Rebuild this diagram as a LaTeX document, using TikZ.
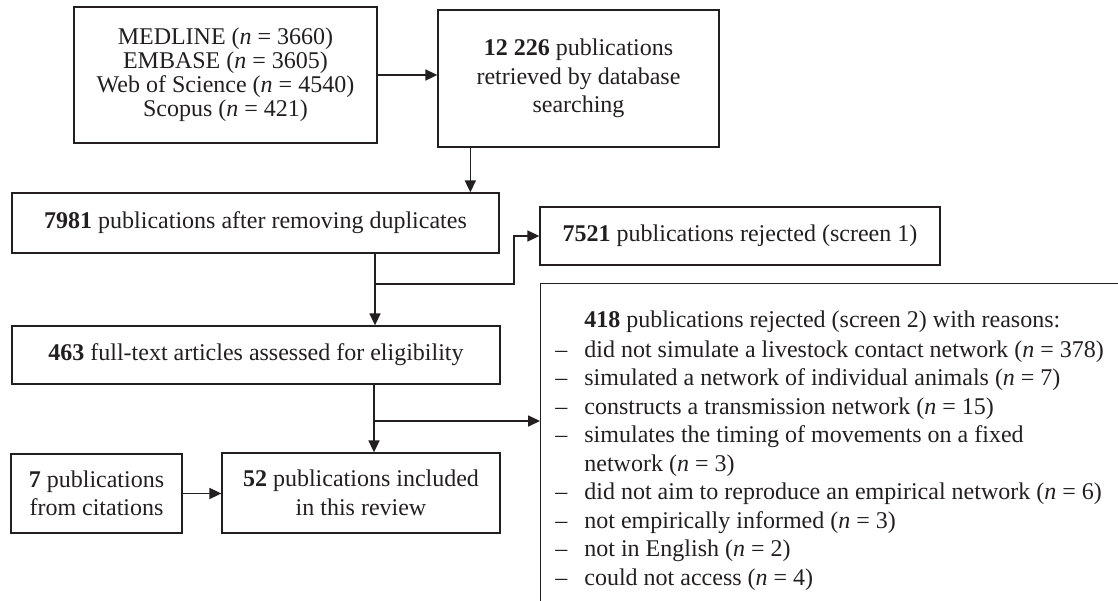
\documentclass[tikz,border=0pt]{standalone}
\usepackage{fontspec}
\setmainfont{Liberation Serif}
\usepackage{tikz}
\usetikzlibrary{arrows.meta,positioning}
\definecolor{ink}{HTML}{231F20}

\begin{document}
\begin{tikzpicture}[x=0.5pt,y=-0.5pt,color=ink,
  box/.style={draw,line width=0.65pt,rectangle,align=center,inner sep=0pt,font=\fontsize{12}{14.25}\selectfont},
  flow/.style={line width=0.85pt,-{Triangle[length=6pt,width=5.5pt]}}]
\useasboundingbox (0,0) rectangle (1118,600);
\clip (0,0) rectangle (1118,600);

\node[box,minimum width=151.5pt,minimum height=68pt,font=\fontsize{12}{12}\selectfont] (db) at (225.5,75)
  {MEDLINE (\textit{n} = 3660)\\EMBASE (\textit{n} = 3605)\\Web of Science (\textit{n} = 4540)\\Scopus (\textit{n} = 421)};
\node[box,minimum width=140.5pt,minimum height=68.5pt] (found) at (578.5,78.5)
  {\textbf{12 226} publications\\retrieved by database\\searching};
\node[box,minimum width=243.5pt,minimum height=30pt] (dedup) at (255.5,223)
  {\textbf{7981} publications after removing duplicates};
\node[box,minimum width=200pt,minimum height=29pt] (rejone) at (740,236)
  {\textbf{7521} publications rejected (screen 1)};
\node[box,minimum width=244pt,minimum height=29pt] (fulltext) at (256,355)
  {\textbf{463} full-text articles assessed for eligibility};
\node[box,minimum width=85.5pt,minimum height=39.5pt] (cited) at (96.5,493.5)
  {\textbf{7} publications\\from citations};
\node[box,minimum width=139pt,minimum height=40pt] (included) at (361,493)
  {\textbf{52} publications included\\in this review};

\node[box,anchor=north west,minimum width=350pt,minimum height=200pt] (rejtwo) at (540,283) {};
\node[anchor=north west,align=left,inner sep=0pt,font=\fontsize{12}{14.25}\selectfont] (reasons) at (584,310)
  {\textbf{418} publications rejected (screen 2) with reasons:\\[0.75pt]
   \llap{--\hspace{8.5pt}}did not simulate a livestock contact network (\textit{n} = 378)\\
   \llap{--\hspace{8.5pt}}simulated a network of individual animals (\textit{n} = 7)\\
   \llap{--\hspace{8.5pt}}constructs a transmission network (\textit{n} = 15)\\
   \llap{--\hspace{8.5pt}}simulates the timing of movements on a fixed\\
   network (\textit{n} = 3)\\
   \llap{--\hspace{8.5pt}}did not aim to reproduce an empirical network (\textit{n} = 6)\\
   \llap{--\hspace{8.5pt}}not empirically informed (\textit{n} = 3)\\
   \llap{--\hspace{8.5pt}}not in English (\textit{n} = 2)\\
   \llap{--\hspace{8.5pt}}could not access (\textit{n} = 4)};

\coordinate (split1) at (375,284);
\coordinate (bend1) at (514,284);
\coordinate (split2) at (374,421);

\draw[flow] (db.east) -- (db.east -| found.west);
\draw[flow] ([xshift=16.5pt]found.south west) -- ([xshift=16.5pt]found.south west |- dedup.north);
\draw[line width=0.85pt] (split1 |- dedup.south) -- (split1);
\draw[flow] (split1) -- (split1 |- fulltext.north);
\draw[flow] (split1) -- (bend1) |- (rejone.west);
\draw[line width=0.85pt] (split2 |- fulltext.south) -- (split2);
\draw[flow] (split2) -- (split2 |- included.north);
\draw[flow] (split2) -- (split2 -| rejtwo.west);
\draw[flow] (cited.east) -- (cited.east -| included.west);

\end{tikzpicture}
\end{document}
